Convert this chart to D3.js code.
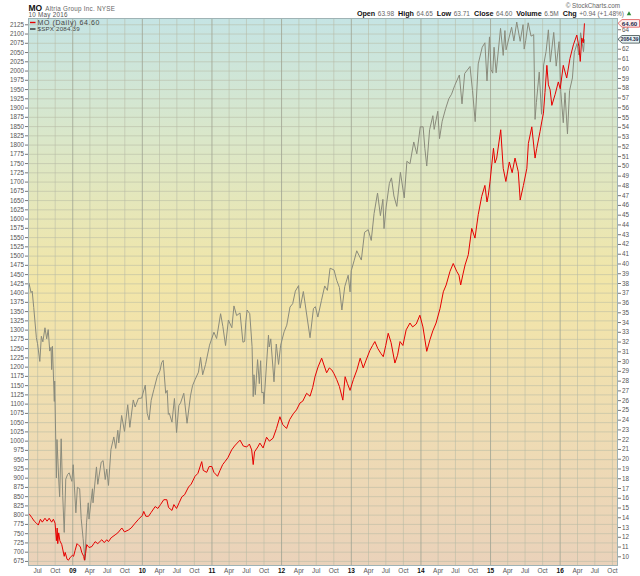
<!DOCTYPE html>
<html>
<head>
<meta charset="utf-8">
<script src="https://cdn.jsdelivr.net/npm/d3@7"></script>
<style>
  body { margin: 0; background: #fff; }
  svg { display: block; font-family: "Liberation Sans", Arial, sans-serif; }
</style>
</head>
<body>
<div id="chart"></div>
<script>
// S&P 500 overlay (left axis), one row per year
var spxDates = [
  "2008-05-14","2008-05-19","2008-05-30","2008-06-05","2008-06-13","2008-06-27","2008-07-03","2008-07-15","2008-07-23","2008-07-31","2008-08-11","2008-08-20","2008-08-28","2008-09-05","2008-09-12","2008-09-15","2008-09-19","2008-09-29","2008-10-01","2008-10-10","2008-10-13","2008-10-22","2008-10-27","2008-11-04","2008-11-12","2008-11-20","2008-11-28","2008-12-08","2008-12-16","2008-12-30",
  "2009-01-06","2009-01-20","2009-01-28","2009-02-09","2009-02-17","2009-02-27","2009-03-09","2009-03-17","2009-03-26","2009-03-30","2009-04-17","2009-04-20","2009-05-08","2009-05-15","2009-06-02","2009-06-12","2009-06-23","2009-07-01","2009-07-10","2009-07-23","2009-08-07","2009-08-17","2009-08-28","2009-09-02","2009-09-17","2009-10-02","2009-10-19","2009-10-30","2009-11-17","2009-11-27","2009-12-14","2009-12-31",
  "2010-01-19","2010-01-29","2010-02-08","2010-02-19","2010-03-05","2010-03-23","2010-04-06","2010-04-15","2010-04-23","2010-05-06","2010-05-14","2010-05-20","2010-05-25","2010-06-08","2010-06-21","2010-07-02","2010-07-14","2010-07-23","2010-08-09","2010-08-26","2010-09-13","2010-09-24","2010-10-08","2010-10-25","2010-11-05","2010-11-16","2010-12-01","2010-12-22",
  "2011-01-14","2011-01-28","2011-02-18","2011-03-02","2011-03-16","2011-03-31","2011-04-18","2011-04-29","2011-05-13","2011-05-31","2011-06-15","2011-06-24","2011-06-30","2011-07-07","2011-07-21","2011-08-02","2011-08-08","2011-08-12","2011-08-19","2011-08-31","2011-09-09","2011-09-16","2011-09-22","2011-09-30","2011-10-03","2011-10-27","2011-10-31","2011-11-08","2011-11-25","2011-12-07","2011-12-19","2011-12-30",
  "2012-01-17","2012-01-31","2012-02-17","2012-03-02","2012-03-16","2012-04-02","2012-04-10","2012-04-27","2012-05-11","2012-06-01","2012-06-19","2012-06-29","2012-07-12","2012-07-31","2012-08-17","2012-08-31","2012-09-14","2012-10-05","2012-10-19","2012-11-02","2012-11-15","2012-11-30","2012-12-18","2012-12-28",
  "2013-01-03","2013-01-18","2013-02-01","2013-02-25","2013-03-14","2013-04-02","2013-04-18","2013-05-03","2013-05-21","2013-06-05","2013-06-18","2013-06-24","2013-07-05","2013-07-22","2013-08-02","2013-08-15","2013-08-30","2013-09-18","2013-10-08","2013-10-22","2013-11-07","2013-11-27","2013-12-13","2013-12-31",
  "2014-01-15","2014-01-24","2014-02-03","2014-02-18","2014-03-07","2014-03-14","2014-04-02","2014-04-11","2014-04-25","2014-05-13","2014-05-30","2014-06-13","2014-06-30","2014-07-24","2014-08-07","2014-08-21","2014-09-18","2014-10-01","2014-10-15","2014-10-31","2014-11-21","2014-12-05","2014-12-16","2014-12-29",
  "2015-01-06","2015-01-15","2015-01-22","2015-02-02","2015-02-25","2015-03-11","2015-03-20","2015-03-26","2015-04-24","2015-05-06","2015-05-21","2015-06-08","2015-06-23","2015-06-29","2015-07-07","2015-07-20","2015-08-04","2015-08-18","2015-08-25","2015-09-01","2015-09-16","2015-09-28","2015-10-09","2015-10-22","2015-11-03","2015-11-13","2015-12-01","2015-12-14","2015-12-29",
  "2016-01-07","2016-01-20","2016-01-29","2016-02-11","2016-02-22","2016-03-08","2016-03-18","2016-04-01","2016-04-11","2016-04-20","2016-05-05","2016-05-10"
];
var spxValues = [
  1424,1426,1400,1404,1360,1278,1262,1214,1282,1267,1305,1275,1300,1242,1252,1192,1255,1106,1161,899,1003,896,848,1005,852,752,896,909,913,890,
  935,805,874,870,789,735,677,778,832,788,870,832,929,882,942,946,895,923,879,976,1010,979,1028,994,1068,1025,1097,1036,1110,1091,1114,1115,
  1150,1074,1056,1109,1138,1174,1189,1211,1217,1128,1136,1071,1074,1050,1114,1022,1095,1102,1128,1047,1121,1149,1166,1185,1225,1178,1206,1258,
  1293,1276,1343,1308,1257,1326,1305,1364,1338,1345,1266,1268,1320,1353,1343,1254,1119,1178,1124,1219,1154,1216,1129,1131,1099,1285,1253,1275,1159,1261,1206,1258,
  1294,1312,1361,1370,1404,1419,1358,1403,1353,1278,1357,1362,1334,1379,1418,1406,1466,1461,1433,1414,1353,1416,1447,1402,
  1459,1486,1513,1488,1563,1570,1541,1614,1669,1608,1652,1573,1631,1695,1710,1661,1633,1725,1656,1755,1748,1807,1775,1848,
  1848,1790,1742,1840,1878,1841,1890,1816,1863,1897,1924,1936,1960,1988,1910,1992,2011,1946,1862,2018,2063,2075,1972,2091,
  2003,1993,2063,1994,2114,2041,2108,2056,2117,2080,2131,2079,2124,2058,2081,2129,2093,2097,1868,1914,1996,1882,2015,2052,2110,2023,2103,2012,2078,
  1943,1859,1940,1829,1946,1980,2049,2073,2042,2102,2051,2084.39
];

// Altria daily close, dividend adjusted (right axis)
var moDates = [
  "2008-05-14","2008-05-22","2008-06-02","2008-06-16","2008-06-27","2008-07-07","2008-07-18","2008-07-28","2008-08-11","2008-08-22",
  "2008-09-02","2008-09-15","2008-09-24","2008-10-03","2008-10-10","2008-10-14","2008-10-17","2008-10-22","2008-10-28","2008-11-07",
  "2008-11-20","2008-11-25","2008-12-05","2008-12-12","2008-12-22","2009-01-02","2009-01-08","2009-01-16","2009-01-26","2009-02-05",
  "2009-02-12","2009-02-20","2009-03-02","2009-03-06","2009-03-12","2009-03-18","2009-03-30","2009-04-14","2009-04-24","2009-05-01",
  "2009-05-15","2009-06-05","2009-06-18","2009-07-01","2009-07-10","2009-07-24","2009-08-14","2009-08-28","2009-09-18","2009-10-02",
  "2009-10-23","2009-11-06","2009-11-27","2009-12-15","2010-01-04","2010-01-11","2010-01-22","2010-02-05","2010-02-19","2010-03-12",
  "2010-03-26","2010-04-09","2010-04-26","2010-05-12","2010-05-21","2010-06-08","2010-06-18","2010-07-02","2010-07-16","2010-07-30",
  "2010-08-13","2010-09-03","2010-09-17","2010-10-07","2010-10-22","2010-11-11","2010-11-19","2010-12-07","2010-12-20","2011-01-03",
  "2011-01-14","2011-02-02","2011-02-15","2011-03-01","2011-03-13","2011-03-28","2011-04-17","2011-05-02","2011-05-16","2011-05-31",
  "2011-06-17","2011-07-05","2011-07-19","2011-07-31","2011-08-08","2011-08-15","2011-09-01","2011-09-12","2011-09-29","2011-10-17",
  "2011-11-01","2011-11-20","2011-12-08","2011-12-26","2012-01-10","2012-01-30","2012-02-15","2012-03-05","2012-03-22","2012-04-09",
  "2012-04-24","2012-05-14","2012-06-01","2012-06-15","2012-06-27","2012-07-13","2012-08-01","2012-08-13","2012-08-27","2012-09-10",
  "2012-09-23","2012-10-05","2012-10-19","2012-11-02","2012-11-20","2012-12-02","2012-12-14","2012-12-28","2013-01-14","2013-02-02",
  "2013-02-19","2013-03-07","2013-03-22","2013-04-11","2013-04-25","2013-05-07","2013-05-22","2013-06-07","2013-06-20","2013-07-03",
  "2013-07-16","2013-07-31","2013-08-20","2013-09-03","2013-09-16","2013-10-01","2013-10-18","2013-11-07","2013-11-21","2013-12-10",
  "2013-12-29","2014-01-14","2014-02-03","2014-02-20","2014-03-07","2014-03-24","2014-04-14","2014-05-01","2014-05-16","2014-06-05",
  "2014-06-22","2014-07-10","2014-07-22","2014-07-31","2014-08-12","2014-08-23","2014-09-09","2014-09-27","2014-10-14","2014-10-31",
  "2014-11-18","2014-12-05","2014-12-16","2014-12-23","2015-01-01","2015-01-19","2015-01-27","2015-02-05","2015-02-26","2015-03-11",
  "2015-03-25","2015-04-12","2015-04-27","2015-05-12","2015-05-29","2015-06-08","2015-06-25","2015-07-13","2015-07-21","2015-08-08",
  "2015-08-25","2015-09-03","2015-09-20","2015-09-29","2015-10-08","2015-10-16","2015-10-26","2015-11-03","2015-11-12","2015-11-21",
  "2015-12-08","2015-12-25","2016-01-04","2016-01-20","2016-02-07","2016-02-24","2016-03-13","2016-03-31","2016-04-11","2016-04-18",
  "2016-04-26","2016-05-04","2016-05-10"
];
var moValues = [
  14.2,14.3,14.0,13.6,13.4,13.2,13.8,13.5,13.9,13.6,
  13.9,13.5,13.8,13.4,11.6,12.9,11.3,12.4,11.6,11.2,
  10.0,10.4,9.7,9.6,9.9,10.1,10.0,10.6,11.3,11.1,
  11.0,10.4,10.0,9.6,10.3,11.2,10.9,11.0,11.3,11.5,
  11.3,11.7,11.4,11.7,11.5,11.9,12.2,12.4,12.9,12.5,
  12.7,12.9,13.4,13.8,14.2,14.6,14.1,14.1,14.5,15.1,
  14.9,15.3,15.8,15.8,15.0,14.7,15.3,14.9,15.5,16.1,
  16.3,17.1,17.4,18.2,18.5,19.7,18.8,18.6,19.2,19.2,
  18.6,18.2,18.8,19.4,19.7,20.1,20.9,21.3,21.6,21.9,
  21.3,21.2,21.5,20.9,19.4,20.7,21.2,21.6,21.1,22.2,
  21.8,22.1,23.1,24.3,23.5,23.1,24.0,24.6,25.0,25.7,
  25.9,26.7,26.4,27.3,28.4,29.4,30.3,29.6,28.8,29.3,
  29.1,28.7,28.1,27.4,26.0,28.4,27.7,27.0,28.1,29.1,
  30.3,29.3,30.1,31.1,31.6,32.0,31.3,30.8,30.45,31.6,
  32.85,31.9,29.8,30.6,32.0,31.6,33.2,33.9,33.5,33.8,
  34.7,33.5,31.0,32.2,33.1,33.9,35.4,37.1,37.8,39.2,
  40.0,39.2,38.8,37.8,38.9,39.85,40.9,43.6,42.6,45.0,
  46.85,48.0,46.3,47.0,48.4,51.8,50.3,50.8,53.7,49.75,
  48.4,50.4,49.3,50.8,49.4,46.5,48.0,49.75,52.3,54.0,
  50.8,51.8,53.5,54.5,55.4,57.5,60.3,58.3,57.8,56.2,
  57.3,58.6,57.9,60.3,59.0,61.0,62.4,63.4,62.2,60.7,
  63.1,62.6,64.6
];

var leftTicks = d3.range(675, 2126, 25);
var rightTicks = d3.range(10, 65, 1);
var statLabels = ["Open", "High", "Low", "Close", "Volume", "Chg"];
var statValues = ["63.98", "64.65", "63.71", "64.60", "6.5M", "+0.94 (+1.48%)"];

var width = 640, height = 576;
var plot = {left: 28, right: 618, top: 18, bottom: 565};

var parse = d3.timeParse("%Y-%m-%d");
var spx = spxDates.map(function(d, i) { return {date: parse(d), v: spxValues[i]}; });
var mo = moDates.map(function(d, i) { return {date: parse(d), v: moValues[i]}; });

var x = d3.scaleTime()
    .domain([parse("2008-05-14"), parse("2016-11-02")])
    .range([plot.left, plot.right]);
var yLeft = d3.scaleLinear().domain([664, 2142]).range([plot.bottom, plot.top]);
var yRight = d3.scaleLinear().domain([9.11, 65.15]).range([plot.bottom, plot.top]);

var svg = d3.select("#chart").append("svg")
    .attr("width", width)
    .attr("height", height);

var grad = svg.append("defs").append("linearGradient")
    .attr("id", "bg")
    .attr("x1", 0).attr("y1", 0).attr("x2", 0).attr("y2", 1);
grad.append("stop").attr("offset", "0%").attr("stop-color", "#c5e4e4");
grad.append("stop").attr("offset", "22%").attr("stop-color", "#dae7c9");
grad.append("stop").attr("offset", "48%").attr("stop-color", "#f2e6a8");
grad.append("stop").attr("offset", "75%").attr("stop-color", "#efdcb3");
grad.append("stop").attr("offset", "100%").attr("stop-color", "#ead2ba");

svg.append("rect")
    .attr("x", plot.left).attr("y", plot.top)
    .attr("width", plot.right - plot.left)
    .attr("height", plot.bottom - plot.top)
    .attr("fill", "url(#bg)");

// horizontal grid follows the left scale
svg.append("g")
    .attr("transform", "translate(" + plot.left + ",0)")
    .call(d3.axisLeft(yLeft).tickValues(leftTicks).tickSize(-(plot.right - plot.left)).tickFormat(""))
    .call(function(g) { g.select(".domain").remove(); })
    .selectAll("line")
    .attr("stroke", "#b7b9a4")
    .attr("stroke-opacity", 0.55);

var quarters = d3.timeMonth.every(3).range(parse("2008-07-01"), parse("2016-11-01"));

svg.append("g")
    .attr("transform", "translate(0," + plot.bottom + ")")
    .call(d3.axisBottom(x).tickValues(quarters).tickSize(-(plot.bottom - plot.top)).tickFormat(""))
    .call(function(g) { g.select(".domain").remove(); })
    .selectAll("line")
    .attr("stroke", function(d) { return d.getMonth() === 0 ? "#9fa492" : "#b7b9a4"; })
    .attr("stroke-opacity", function(d) { return d.getMonth() === 0 ? 0.8 : 0.55; });

var line = function(scale) {
  return d3.line()
      .x(function(d) { return x(d.date); })
      .y(function(d) { return scale(d.v); });
};

svg.append("path")
    .datum(spx)
    .attr("fill", "none")
    .attr("stroke", "#8a8b7c")
    .attr("stroke-width", 1)
    .attr("d", line(yLeft));

svg.append("path")
    .datum(mo)
    .attr("fill", "none")
    .attr("stroke", "#e60000")
    .attr("stroke-width", 1)
    .attr("d", line(yRight));

// plot frame
svg.append("rect")
    .attr("x", plot.left + 0.5).attr("y", plot.top + 0.5)
    .attr("width", plot.right - plot.left - 1)
    .attr("height", plot.bottom - plot.top)
    .attr("fill", "none")
    .attr("stroke", "#9fb3b5");

// axes
var leftAxis = svg.append("g")
    .attr("transform", "translate(" + plot.left + ",0)")
    .call(d3.axisLeft(yLeft).tickValues(leftTicks).tickSize(3).tickPadding(1).tickFormat(d3.format("d")));
leftAxis.select(".domain").remove();
leftAxis.selectAll("line").attr("stroke", "#777");
leftAxis.selectAll("text").attr("font-size", 6.3).attr("fill", "#555").attr("font-family", null);

// 63 sits under the $SPX price tag, so its label is left blank
var rightAxis = svg.append("g")
    .attr("transform", "translate(" + plot.right + ",0)")
    .call(d3.axisRight(yRight).tickValues(rightTicks).tickSize(3).tickPadding(1)
      .tickFormat(function(d) { return d === 63 ? "" : d; }));
rightAxis.select(".domain").remove();
rightAxis.selectAll("line").attr("stroke", "#777");
rightAxis.selectAll("text").attr("font-size", 6.3).attr("fill", "#555").attr("font-family", null);

var bottomAxis = svg.append("g")
    .attr("transform", "translate(0," + plot.bottom + ")")
    .call(d3.axisBottom(x).tickValues(quarters).tickSize(0).tickPadding(3)
      .tickFormat(function(d) { return d.getMonth() === 0 ? d3.timeFormat("%y")(d) : d3.timeFormat("%b")(d); }));
bottomAxis.select(".domain").remove();
bottomAxis.selectAll("text")
    .attr("font-size", 6.5)
    .attr("font-family", null)
    .attr("font-weight", function(d) { return d.getMonth() === 0 ? "bold" : "normal"; })
    .attr("fill", function(d) { return d.getMonth() === 0 ? "#111" : "#555"; });

// price tags on the right edge
function tag(yPos, label, stroke, fill, size, textX) {
  var g = svg.append("g").attr("transform", "translate(" + plot.right + "," + yPos + ")");
  g.append("path")
      .attr("d", "M0,0 L4,-3.8 L21.5,-3.8 L21.5,3.8 L4,3.8 Z")
      .attr("fill", fill)
      .attr("stroke", stroke)
      .attr("stroke-width", 0.8);
  g.append("text")
      .attr("x", textX).attr("dy", "0.35em")
      .attr("font-size", size).attr("font-weight", "bold")
      .attr("fill", "#1d2a4a")
      .text(label);
}
tag(yLeft(spxValues[spxValues.length - 1]), "2084.39", "#3a4a4a", "#e8f2f2", 4.9, 2.8);
tag(yRight(moValues[moValues.length - 1]), "64.60", "#e05050", "#fdeeee", 6.2, 3.8);

// legend
var legend = [
  {label: "MO (Daily) 64.60", color: "#e60000", size: 7, spacing: 0.6},
  {label: "$SPX 2084.39", color: "#333", size: 6.2, spacing: 0.2}
];
legend.forEach(function(d, i) {
  var yPos = 22.5 + i * 6.5;
  svg.append("line")
      .attr("x1", 30).attr("x2", 35.5)
      .attr("y1", yPos).attr("y2", yPos)
      .attr("stroke", d.color).attr("stroke-width", 1.4);
  svg.append("text")
      .attr("x", 37.5).attr("y", yPos).attr("dy", "0.35em")
      .attr("font-size", d.size)
      .attr("letter-spacing", d.spacing)
      .attr("fill", "#444")
      .text(d.label);
});

// header
var title = svg.append("text").attr("x", 28.5).attr("y", 10.5);
title.append("tspan").attr("font-size", 8.5).attr("font-weight", "bold").attr("fill", "#111").text("MO");
title.append("tspan").attr("dx", 3).attr("font-size", 6.3).attr("letter-spacing", 0.25).attr("fill", "#666")
    .text("Altria Group Inc. NYSE");

svg.append("text")
    .attr("x", 28.5).attr("y", 17)
    .attr("font-size", 6.3).attr("letter-spacing", 0.25).attr("fill", "#555")
    .text("10 May 2016");

svg.append("text")
    .attr("x", 620).attr("y", 8)
    .attr("text-anchor", "end")
    .attr("font-size", 6.3).attr("fill", "#666")
    .text("\u00a9 StockCharts.com");

var stats = svg.append("text")
    .attr("x", 624).attr("y", 16.2)
    .attr("text-anchor", "end");
statLabels.forEach(function(lab, i) {
  stats.append("tspan")
      .attr("dx", i === 0 ? 0 : 4)
      .attr("font-size", 7.2).attr("font-weight", "bold").attr("fill", "#111")
      .text(lab);
  stats.append("tspan")
      .attr("dx", 2.5)
      .attr("font-size", 6.5).attr("fill", "#666")
      .text(statValues[i]);
});

svg.append("path")
    .attr("d", d3.symbol().type(d3.symbolTriangle).size(9)())
    .attr("transform", "translate(629,14)")
    .attr("fill", "#2e8b3a");
</script>
</body>
</html>
